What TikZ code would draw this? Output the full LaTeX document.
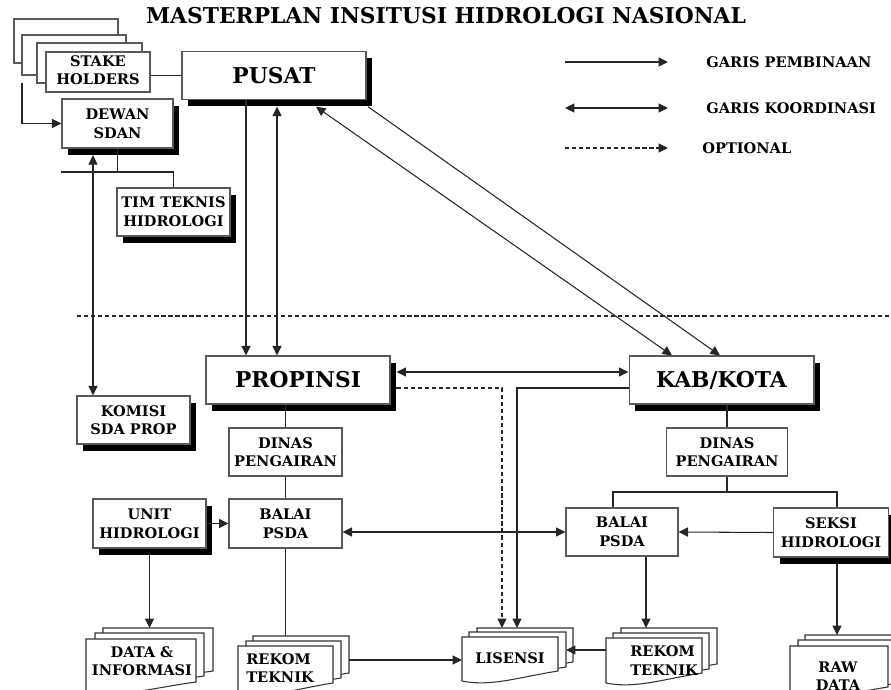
\documentclass[tikz,border=0pt]{standalone}
\usepackage{fontspec}
\setmainfont{DejaVu Serif}
\usepackage{tikz}
\usetikzlibrary{arrows.meta,shadows}
\newcommand{\sm}{\bfseries\fontsize{8.3}{10.6}\selectfont}
\newcommand{\bg}{\bfseries\fontsize{12.4}{14}\selectfont}
\tikzset{
  bx/.style={draw=black!65,line width=0.6pt,fill=white,inner sep=1pt,align=center,font=\sm},
  shd/.style={drop shadow={shadow xshift=3.4pt,shadow yshift=-3.8pt,fill=black,opacity=1}},
  big/.style={font=\bg},
  ln/.style={black!85,line width=0.6pt},
  pb/.style={ln,-{Triangle[length=5.4pt,width=5.2pt]}},
  kd/.style={ln,{Triangle[length=5.4pt,width=5.2pt]}-{Triangle[length=5.4pt,width=5.2pt]}},
  opt/.style={pb,dash pattern=on 2.4pt off 1.6pt},
  pg/.style={draw=black!80,line width=0.6pt,fill=white},
  txt/.style={inner sep=0pt,align=center,font=\sm}
}
\newcommand{\docpg}[5]{\draw[pg] (#2,#3) -- ++(#4,0) -- ++(0,#5) .. controls +(-0.4*#4,6) and +(0.3*#4,6) .. ++(-#4,10) -- cycle;
  \coordinate (#1) at (#2,#3); \coordinate (#1r) at (#2+#4,#3);}

\begin{document}
\begin{tikzpicture}[x=0.02cm,y=-0.02cm]
\useasboundingbox (0,0) rectangle (891,689);
\node[big,inner sep=0pt] (ttl) at (446,15.5) {MASTERPLAN INSITUSI HIDROLOGI NASIONAL};

\node[bx,minimum width=2.08cm,minimum height=0.88cm] (sh1) at (66,41) {};
\node[bx,minimum width=2.08cm,minimum height=0.80cm] (sh2) at (74,55) {};
\node[bx,minimum width=2.10cm,minimum height=0.80cm] (sh3) at (89.5,63) {};
\node[bx,minimum width=2.08cm,minimum height=0.80cm,text depth=2pt] (stake) at (98,72) {STAKE\\HOLDERS};
\node[bx,shd,big,minimum width=3.68cm,minimum height=0.96cm] (pusat) at (274,75.5) {PUSAT};
\node[bx,shd,minimum width=2.22cm,minimum height=0.98cm] (dewan) at (117.5,123.5) {DEWAN\\SDAN};
\node[bx,shd,minimum width=2.26cm,minimum height=0.96cm] (tim) at (173.5,212) {TIM TEKNIS\\HIDROLOGI};
\node[bx,shd,minimum width=2.26cm,minimum height=0.96cm] (komisi) at (133.5,420) {KOMISI\\SDA PROP};
\node[bx,shd,big,minimum width=3.68cm,minimum height=0.96cm] (ppr) at (298,380) {PROPINSI};
\node[bx,shd,big,minimum width=3.70cm,minimum height=0.96cm] (kab) at (721.5,380) {KAB/KOTA};
\node[bx,minimum width=2.26cm,minimum height=0.96cm] (dinp) at (285.5,452) {DINAS\\PENGAIRAN};
\node[bx,minimum width=2.42cm,minimum height=0.96cm] (dink) at (727,452) {DINAS\\PENGAIRAN};
\node[bx,shd,minimum width=2.26cm,minimum height=0.98cm] (unit) at (149.5,523.5) {UNIT\\HIDROLOGI};
\node[bx,minimum width=2.26cm,minimum height=0.98cm] (balp) at (285.5,523.5) {BALAI\\PSDA};
\node[bx,minimum width=2.24cm,minimum height=0.96cm] (balk) at (622,532) {BALAI\\PSDA};
\node[bx,shd,minimum width=2.30cm,minimum height=0.98cm] (seksi) at (831,532.5) {SEKSI\\HIDROLOGI};

\docpg{datb}{103}{628}{110}{43} \docpg{datm}{95}{633}{109}{43} \docpg{datf}{86}{639}{110}{43}
\node[txt] (datt) at (142,661) {DATA \&\\INFORMASI};
\docpg{rkpb}{253}{636}{96}{37} \docpg{rkpm}{246}{641}{95}{37} \docpg{rkpf}{238}{646}{95}{37}
\node[txt,align=left,anchor=west] (rkpt) at (246,668) {REKOM\\TEKNIK};
\docpg{lisb}{477}{628}{96}{34} \docpg{lism}{469}{632}{97}{35} \docpg{lisf}{462}{637}{96}{34}
\node[txt] (list) at (510,658) {LISENSI};
\docpg{rkkb}{621}{628}{96}{36} \docpg{rkkm}{613}{633}{96}{36} \docpg{rkkf}{606}{638}{96}{35}
\node[txt,align=left,anchor=west] (rkkt) at (630,660.5) {REKOM\\TEKNIK};
\docpg{rawb}{805}{635}{100}{43} \docpg{rawm}{798}{640}{100}{43} \docpg{rawf}{790}{646}{98}{41}
\node[txt] (rawt) at (838,676) {RAW\\DATA};

\coordinate (l1a) at (565,62); \coordinate (l1b) at (668,62);
\coordinate (l2a) at (565,108); \coordinate (l2b) at (668,108);
\coordinate (l3a) at (565,148); \coordinate (l3b) at (668,148);
\draw[pb] (l1a) -- (l1b); \node[txt,anchor=west] (lg1) at (706,62) {GARIS PEMBINAAN};
\draw[kd] (l2a) -- (l2b); \node[txt,anchor=west] (lg2) at (706,108) {GARIS KOORDINASI};
\draw[opt] (l3a) -- (l3b); \node[txt,anchor=west] (lg3) at (702,148) {OPTIONAL};

\draw[ln,dash pattern=on 2.4pt off 1.6pt] (77,316) -- (891,316);

\coordinate (sk) at (22,83);
\coordinate (jd) at (dewan.south |- 0,172);
\coordinate (jk) at (dink.south |- 0,492);
\draw[ln] (stake.east |- pusat.west) -- (pusat.west);
\draw[pb] (sk) |- (dewan.west);
\draw[ln] (dewan.south) -- (jd);
\draw[ln] (dewan.west |- jd) -| (tim.north);
\draw[kd] ([yshift=-3.8pt]dewan.south -| 93,0) -- (komisi.north -| 93,0);
\draw[pb] (pusat.south -| 246,0) -- (ppr.north -| 246,0);
\draw[kd] ([yshift=-3.8pt]pusat.south -| 277,0) -- (ppr.north -| 277,0);
\draw[kd] ([yshift=-3.8pt]pusat.south -| 316,0) -- (kab.north -| 672,0);
\draw[pb] ([yshift=-3.8pt]pusat.south -| 368,0) -- (kab.north -| 720,0);
\draw[kd] ([xshift=3.4pt]ppr.east |- 0,372) -- (kab.west |- 0,372);
\draw[opt] ([xshift=3.4pt]ppr.east |- 0,388) -| (lisb -| 502,0);
\draw[pb] (kab.west |- 0,388) -| (lisb -| 517,0);
\draw[ln] (ppr.south -| dinp.north) -- (dinp.north);
\draw[ln] (dinp.south) -- (balp.north);
\draw[ln] (balp.south) -- (balp.south |- rkpb);
\draw[pb] (unit.east) -- (balp.west);
\draw[kd] (balp.east |- balk.west) -- (balk.west);
\draw[pb] (seksi.west) -- (balk.east);
\draw[ln] (kab.south -| dink.north) -- (dink.north);
\draw[ln] (dink.south) -- (jk);
\draw[ln] (balk.north -| 613,0) |- (jk) -| (seksi.north -| 837,0);
\draw[pb] ([yshift=-3.8pt]unit.south) -- (unit.south |- datb);
\draw[pb] (balk.south -| 646,0) -- (rkkb -| 646,0);
\draw[pb] ([yshift=-3.8pt]seksi.south -| 837,0) -- (rawb -| 837,0);
\draw[pb] (rkpbr |- 0,660) -- (lisf |- 0,660);
\draw[pb] (rkkf |- 0,650) -- (lismr |- 0,650);
\end{tikzpicture}
\end{document}
